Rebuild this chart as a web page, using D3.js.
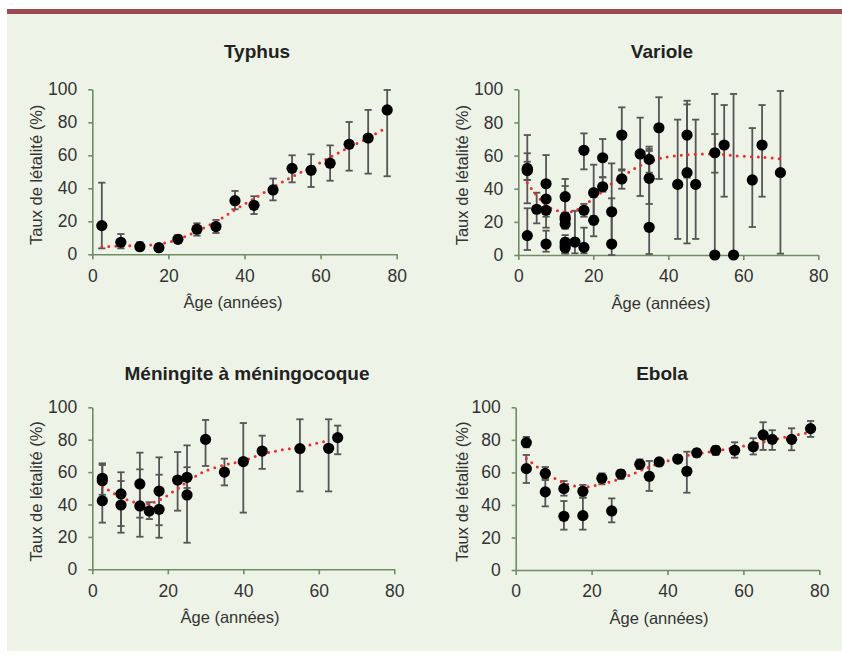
<!DOCTYPE html>
<html><head><meta charset="utf-8">
<script src="https://cdn.jsdelivr.net/npm/d3@7/dist/d3.min.js"></script>
<style>
html,body{margin:0;padding:0;background:#fff;}
svg{display:block;}
</style></head>
<body>
<svg id="chart" width="842" height="657"></svg>
<script>
// ---------- DATA ----------
const xTicks = [0, 20, 40, 60, 80];
const yTicks = [0, 20, 40, 60, 80, 100];
const titles = ["Typhus", "Variole", "Méningite à méningocoque", "Ebola"];
const xLabel = "Âge (années)";
const yLabel = "Taux de létalité (%)";

// Typhus
const typhusAge = [2.5, 7.5, 12.5, 17.5, 22.5, 27.5, 32.5, 37.5, 42.5, 47.5, 52.5, 57.5, 62.5, 67.5, 72.5, 77.5];
const typhusVal = [17.4, 7.3, 4.6, 4.0, 9.1, 15.2, 16.8, 32.5, 29.7, 39.0, 52.1, 50.9, 55.2, 66.7, 70.5, 87.5];
const typhusLo  = [3.6, 3.6, 3.0, 2.6, 7.1, 11.3, 12.9, 27.3, 24.4, 32.7, 43.6, 40.8, 44.6, 50.7, 48.9, 47.3];
const typhusHi  = [43.4, 12.3, 7.3, 6.3, 11.5, 18.8, 20.8, 38.4, 35.2, 45.9, 60.0, 60.6, 66.0, 80.2, 87.5, 99.6];
const typhusTrendAge = [2.5, 7.5, 12.5, 17.5, 22.5, 27.5, 32.5, 37.5, 42.5, 47.5, 52.5, 57.5, 62.5, 67.5, 72.5, 77.0];
const typhusTrendVal = [4.6, 5.0, 5.4, 6.2, 9.0, 14.0, 19.8, 27.0, 33.7, 40.6, 47.0, 52.7, 58.8, 64.8, 70.5, 76.4];

// Variole
const varioleAge = [2.4, 2.4, 2.4, 2.4, 4.9, 7.4, 7.4, 7.4, 7.4, 12.5, 12.5, 12.5, 12.5, 12.5, 12.5, 12.5, 15.1, 17.5, 17.5, 17.5, 20.1, 20.1, 22.5, 22.5, 24.9, 24.9, 27.6, 27.6, 32.5, 34.9, 34.9, 34.9, 37.5, 42.5, 45.0, 45.0, 47.3, 52.4, 52.4, 54.9, 57.4, 62.4, 65.0, 69.9];
const varioleVal = [52.3, 50.9, 51.5, 11.7, 27.6, 43.0, 33.8, 27.0, 6.6, 35.2, 22.9, 21.5, 18.7, 7.7, 6.0, 4.4, 7.8, 63.2, 27.0, 4.6, 37.6, 20.9, 58.7, 41.2, 26.1, 6.6, 72.4, 45.9, 61.0, 57.7, 46.3, 16.7, 76.8, 42.6, 72.4, 49.7, 42.6, 61.7, 0.0, 66.4, 0.0, 45.3, 66.4, 49.7];
const varioleLo  = [31.2, 45.3, 45.3, 3.0, 19.1, 27.0, 23.1, 16.5, 2.0, 25.5, 17.0, 16.0, 16.0, 1.0, 1.0, 1.0, 1.0, 51.7, 23.1, 1.0, 23.5, 11.3, 46.9, 38.2, 6.0, 0.0, 51.7, 40.0, 35.6, 49.7, 30.8, 0.6, 45.9, 9.7, 46.7, 7.0, 9.7, 49.7, 0.0, 35.2, 0.0, 16.9, 35.2, 0.8];
const varioleHi  = [72.4, 61.4, 56.3, 28.2, 37.6, 60.3, 43.0, 34.0, 14.7, 45.9, 41.6, 25.5, 22.0, 12.0, 10.0, 8.0, 26.7, 73.4, 30.8, 16.5, 54.5, 35.0, 70.0, 46.9, 55.3, 34.2, 89.1, 51.0, 82.9, 65.4, 64.0, 62.8, 95.2, 81.7, 90.9, 93.1, 81.7, 73.0, 97.2, 90.5, 97.2, 76.6, 90.5, 99.0];
const varioleTrendAge = [2.4, 4.5, 7.0, 9.0, 11.0, 13.0, 15.0, 17.5, 20.0, 22.5, 25.0, 27.5, 30.0, 32.5, 35.0, 38.0, 44.0, 52.0, 59.0, 65.0, 69.8];
const varioleTrendVal = [43.6, 37.0, 31.0, 27.8, 26.5, 26.0, 26.5, 30.0, 34.0, 38.5, 43.3, 46.8, 50.7, 54.0, 56.3, 58.5, 60.3, 61.0, 59.7, 59.0, 58.1];

// Méningite à méningocoque
const meningAge = [2.65, 2.65, 2.65, 7.6, 7.6, 12.6, 12.6, 15.1, 17.7, 17.7, 22.6, 25.1, 25.1, 30.0, 35.0, 40.0, 45.0, 55.0, 62.6, 65.0];
const meningVal = [56.2, 54.7, 42.3, 46.5, 39.7, 52.7, 39.1, 36.0, 48.3, 37.0, 55.1, 56.8, 45.9, 80.2, 60.0, 66.5, 73.0, 74.5, 74.7, 81.3];
const meningLo  = [46.0, 44.0, 28.8, 26.7, 22.6, 31.9, 20.1, 31.0, 27.2, 19.5, 36.2, 50.2, 16.4, 63.8, 51.8, 35.0, 62.0, 48.1, 48.1, 71.0];
const meningHi  = [65.4, 64.4, 54.0, 54.5, 59.9, 72.0, 61.7, 41.4, 69.1, 58.4, 72.4, 63.0, 76.5, 92.2, 68.3, 90.3, 82.5, 92.6, 92.6, 88.7];
const meningTrendAge = [2.65, 4.2, 6.0, 7.8, 9.4, 11.0, 13.0, 15.0, 16.5, 18.2, 20.0, 21.6, 23.2, 24.7, 26.3, 28.0, 30.0, 35.0, 40.0, 45.0, 50.0, 55.0, 59.5, 62.6];
const meningTrendVal = [51.0, 49.0, 46.5, 44.2, 42.8, 41.5, 40.7, 40.4, 41.4, 43.2, 45.7, 48.3, 50.6, 53.5, 55.9, 58.2, 60.7, 64.4, 67.0, 71.0, 73.6, 75.3, 77.8, 79.4];

// Ebola
const ebolaAge = [2.8, 2.8, 7.8, 7.8, 12.7, 12.7, 17.7, 17.7, 22.7, 25.3, 27.7, 32.7, 35.2, 37.8, 42.7, 45.1, 47.7, 52.7, 57.7, 62.6, 65.2, 67.6, 72.7, 77.7];
const ebolaVal = [78.3, 62.3, 59.4, 48.0, 50.0, 33.0, 48.4, 33.4, 56.4, 36.3, 59.0, 65.0, 57.6, 66.4, 68.2, 60.7, 72.0, 73.6, 73.6, 75.8, 83.0, 80.3, 80.3, 86.9];
const ebolaLo  = [75.4, 53.5, 56.0, 39.1, 45.7, 24.8, 44.5, 24.8, 52.7, 29.3, 56.0, 62.0, 48.6, 64.1, 66.0, 47.5, 69.5, 70.7, 69.0, 71.0, 73.8, 73.8, 73.6, 81.8];
const ebolaHi  = [81.8, 70.7, 63.3, 55.3, 54.7, 42.4, 52.3, 44.5, 59.4, 44.0, 61.5, 68.0, 67.0, 68.2, 70.7, 72.7, 74.2, 76.2, 78.5, 81.0, 90.8, 85.9, 87.1, 91.6];
const ebolaTrendAge = [2.8, 5.7, 8.9, 12.4, 15.9, 17.8, 19.6, 23.4, 27.1, 30.8, 34.5, 38.3, 42.4, 45.9, 50.3, 54.7, 59.1, 63.5, 67.9, 72.3, 76.6, 77.7];
const ebolaTrendVal = [68.6, 63.3, 58.2, 53.9, 51.4, 51.0, 51.4, 53.3, 55.7, 59.0, 62.7, 65.8, 68.6, 70.7, 72.3, 74.0, 75.8, 77.9, 80.1, 82.2, 84.2, 84.6];

// ---------- LAYOUT ----------
const panels = [
  {title: titles[0], age: typhusAge, val: typhusVal, lo: typhusLo, hi: typhusHi, tAge: typhusTrendAge, tVal: typhusTrendVal,
   xr: [92.3, 396.7], yr: [254.3, 89.3], titleX: 257, titleY: 58, xlabX: 233, ylabX: 36},
  {title: titles[1], age: varioleAge, val: varioleVal, lo: varioleLo, hi: varioleHi, tAge: varioleTrendAge, tVal: varioleTrendVal,
   xr: [518.3, 818.3], yr: [255, 89.3], titleX: 662, titleY: 58, xlabX: 661, ylabX: 462},
  {title: titles[2], age: meningAge, val: meningVal, lo: meningLo, hi: meningHi, tAge: meningTrendAge, tVal: meningTrendVal,
   xr: [92.3, 394.3], yr: [569.3, 407.3], titleX: 247, titleY: 380, xlabX: 230, ylabX: 36},
  {title: titles[3], age: ebolaAge, val: ebolaVal, lo: ebolaLo, hi: ebolaHi, tAge: ebolaTrendAge, tVal: ebolaTrendVal,
   xr: [515.7, 819.3], yr: [570, 407.3], titleX: 662, titleY: 380, xlabX: 659, ylabX: 462}
];

const svg = d3.select("#chart");
const AXIS = "#6e8d62";
const TICKFONT = "'Liberation Sans Narrow', 'Liberation Sans', sans-serif";
const LABELFONT = "'Liberation Sans', Arial, sans-serif";

svg.append("rect").attr("x", 7).attr("y", 10).attr("width", 835).attr("height", 641).attr("fill", "#eef3e8");
svg.append("rect").attr("x", 7).attr("y", 9).attr("width", 835).attr("height", 5).attr("fill", "#9b4a55");

panels.forEach(p => {
  const x = d3.scaleLinear().domain([0, 80]).range(p.xr);
  const y = d3.scaleLinear().domain([0, 100]).range(p.yr);
  const g = svg.append("g");

  // title
  g.append("text").attr("x", p.titleX).attr("y", p.titleY)
    .attr("text-anchor", "middle").attr("font-family", LABELFONT)
    .attr("font-weight", "bold").attr("font-size", 19).attr("fill", "#222")
    .text(p.title);

  // axes
  const xAxis = d3.axisBottom(x).tickValues(xTicks).tickSize(5).tickSizeOuter(0).tickPadding(10);
  const yAxis = d3.axisLeft(y).tickValues(yTicks).tickSize(4).tickSizeOuter(0).tickPadding(11);

  const gx = g.append("g").attr("transform", `translate(0,${p.yr[0]})`).call(xAxis);
  const gy = g.append("g").attr("transform", `translate(${p.xr[0]},0)`).call(yAxis);
  [gx, gy].forEach(a => {
    a.selectAll("path.domain").attr("stroke", AXIS).attr("stroke-width", 1.6);
    a.selectAll(".tick line").attr("stroke", AXIS).attr("stroke-width", 1.6);
    a.selectAll(".tick text").attr("fill", "#333").attr("font-family", TICKFONT).attr("font-size", 17.5);
  });

  // axis labels
  g.append("text").attr("x", p.xlabX).attr("y", p.yr[0] + 54)
    .attr("text-anchor", "middle").attr("font-family", LABELFONT).attr("font-size", 16.5).attr("fill", "#333")
    .text(xLabel);
  const cy = (p.yr[0] + p.yr[1]) / 2 + 3;
  g.append("text").attr("transform", `translate(${p.ylabX + 6},${cy}) rotate(-90)`)
    .attr("text-anchor", "middle").attr("font-family", LABELFONT).attr("font-size", 16.5).attr("fill", "#333")
    .text(yLabel);

  const idx = d3.range(p.age.length);
  // error bars
  const eb = g.append("g").attr("stroke", "#555").attr("stroke-width", 1.8).attr("fill", "none");
  idx.forEach(i => {
    const cx = x(p.age[i]);
    eb.append("line").attr("x1", cx).attr("x2", cx).attr("y1", y(p.lo[i])).attr("y2", y(p.hi[i]));
    eb.append("line").attr("x1", cx - 3.6).attr("x2", cx + 3.6).attr("y1", y(p.lo[i])).attr("y2", y(p.lo[i]));
    eb.append("line").attr("x1", cx - 3.6).attr("x2", cx + 3.6).attr("y1", y(p.hi[i])).attr("y2", y(p.hi[i]));
  });

  // trend
  const tIdx = d3.range(p.tAge.length);
  const line = d3.line().x(i => x(p.tAge[i])).y(i => y(p.tVal[i])).curve(d3.curveCatmullRom);
  g.append("path").attr("d", line(tIdx)).attr("fill", "none")
    .attr("stroke", "#ee2e2e").attr("stroke-width", 3).attr("stroke-linecap", "round")
    .attr("stroke-dasharray", "0 7");

  // points
  g.append("g").selectAll("circle").data(idx).join("circle")
    .attr("cx", i => x(p.age[i])).attr("cy", i => y(p.val[i])).attr("r", 5.6).attr("fill", "#000");

  // trend on top of points? (reference: trend drawn over points partially)
  g.append("path").attr("d", line(tIdx)).attr("fill", "none")
    .attr("stroke", "#ee2e2e").attr("stroke-width", 3).attr("stroke-linecap", "round")
    .attr("stroke-dasharray", "0 7").attr("opacity", 0);
});
</script>
</body></html>
